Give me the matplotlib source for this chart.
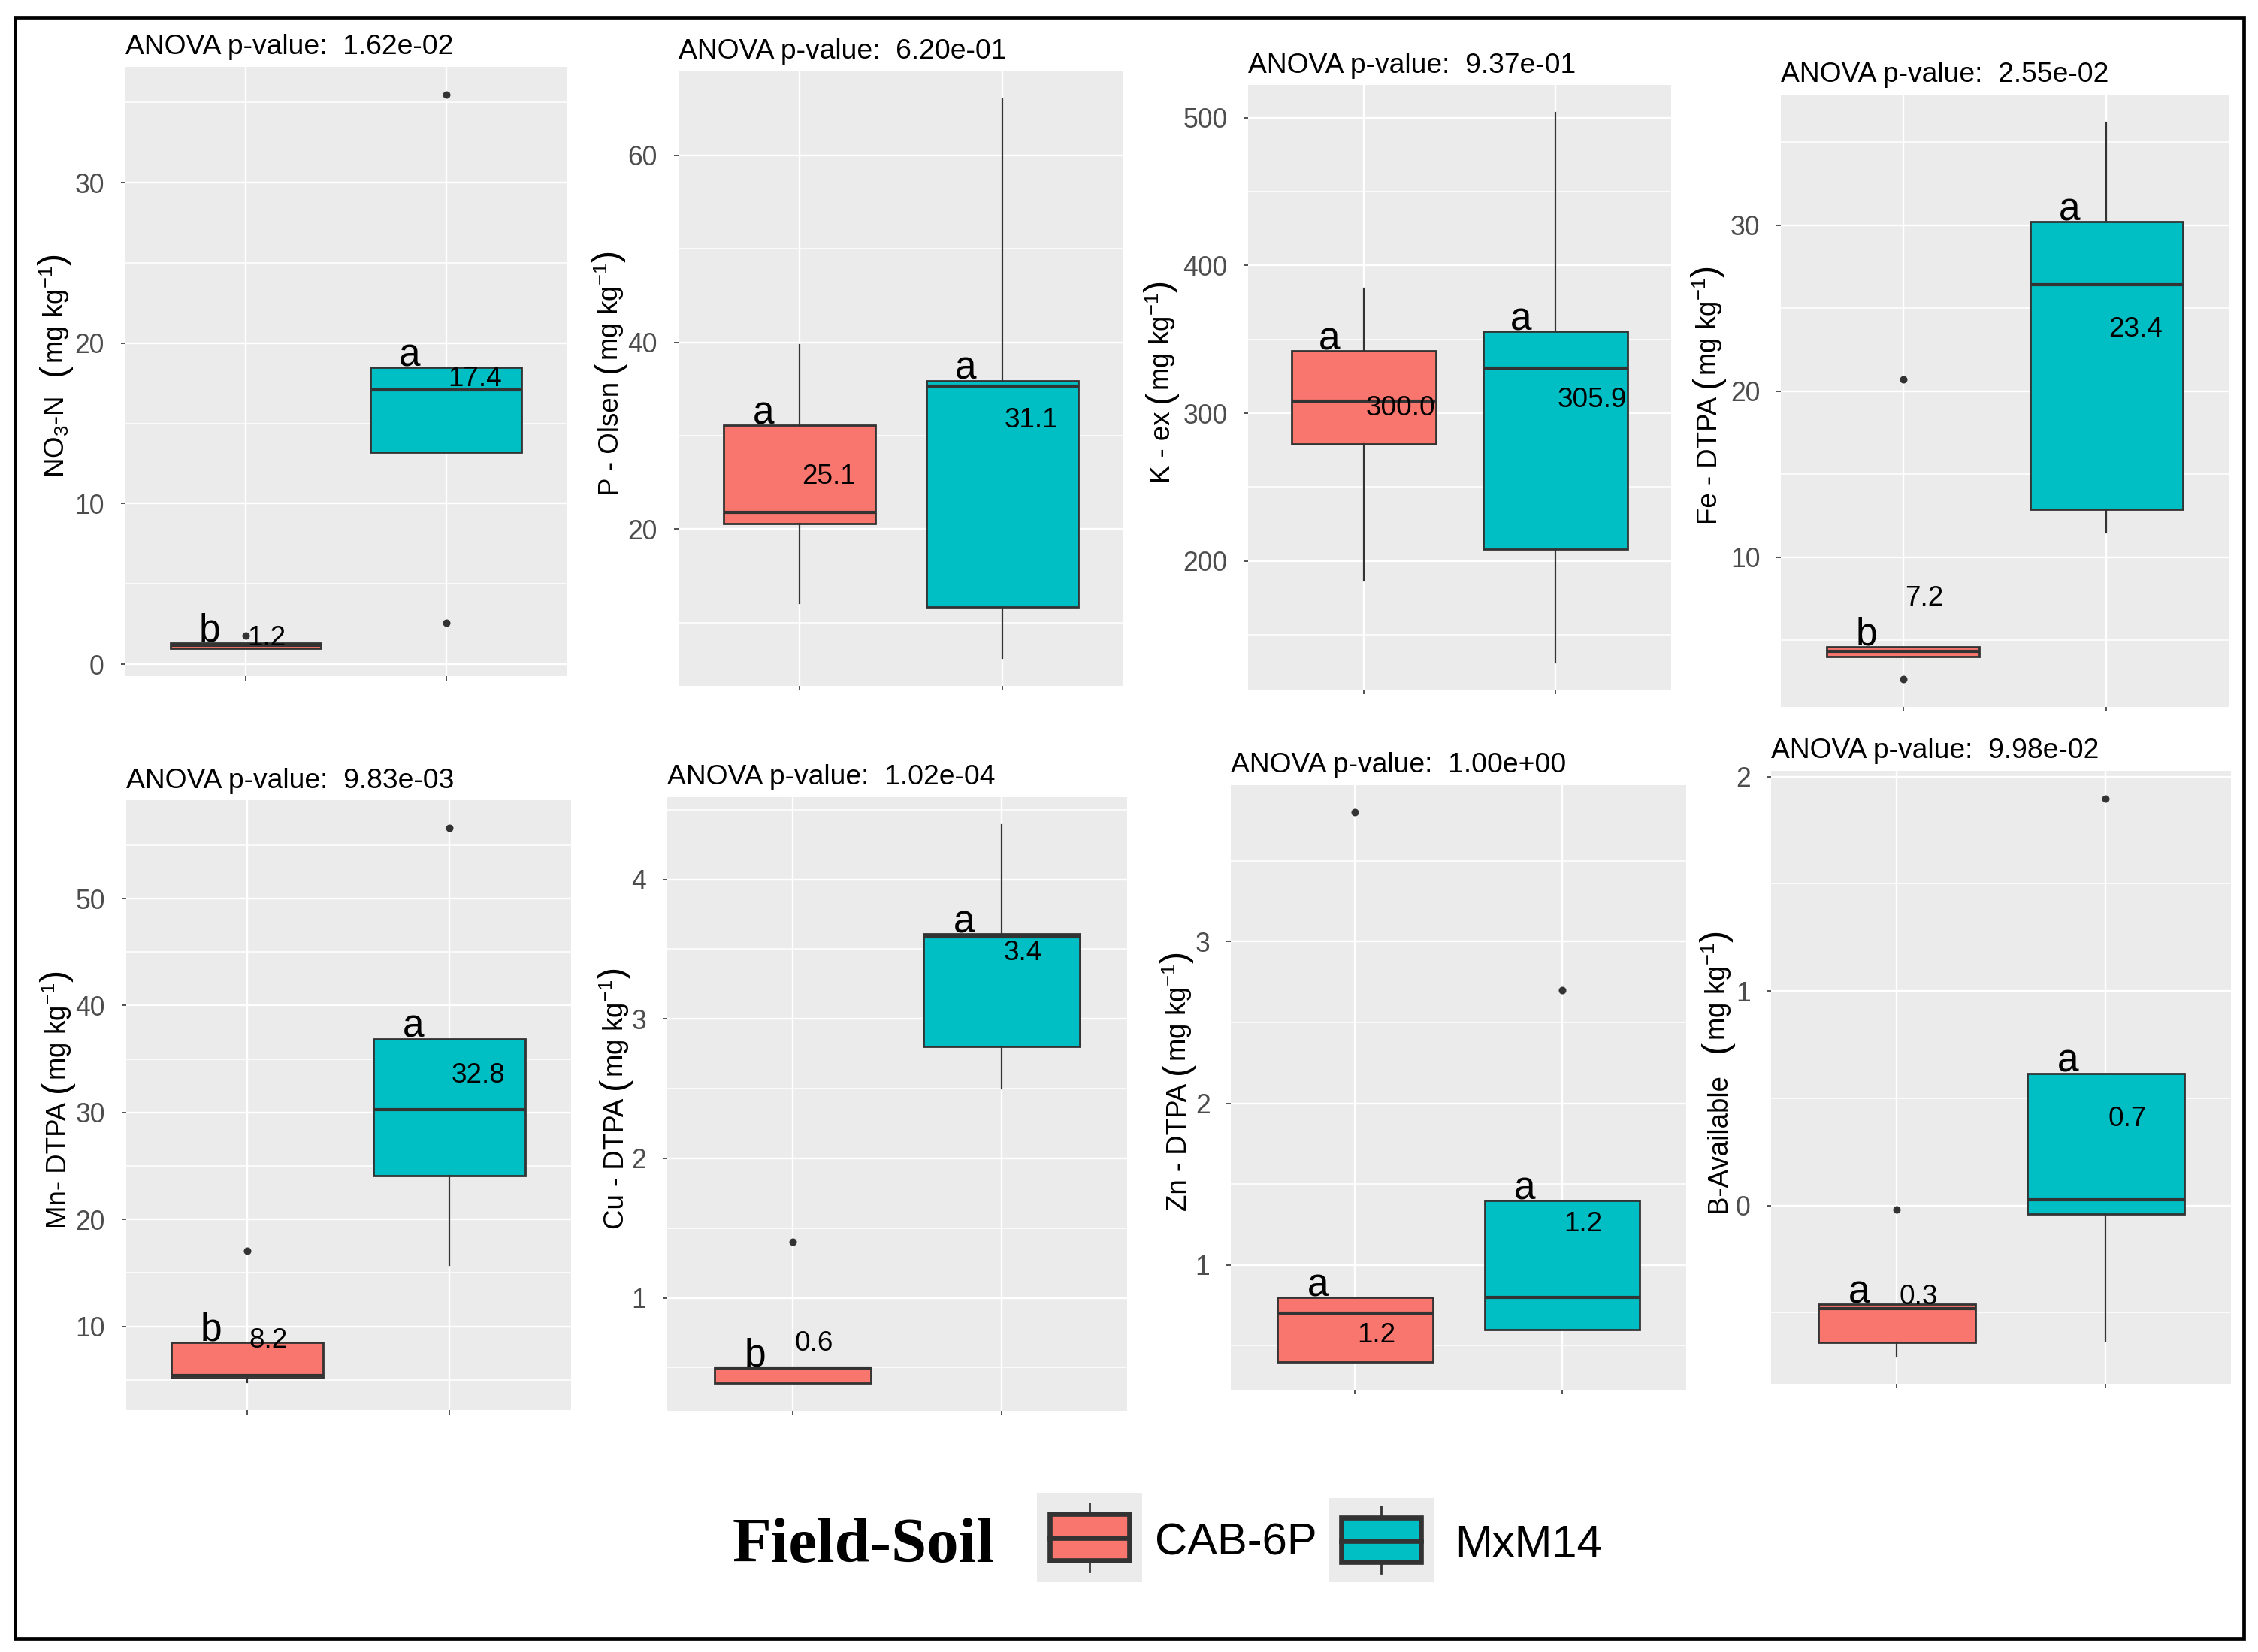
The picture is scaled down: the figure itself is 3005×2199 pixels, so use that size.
import matplotlib
matplotlib.use('Agg')
import matplotlib.pyplot as plt
from matplotlib.patches import Rectangle
from matplotlib.lines import Line2D

plt.rcParams['font.family'] = ['Liberation Sans', 'DejaVu Sans']
plt.rcParams['mathtext.fontset'] = 'custom'
plt.rcParams['mathtext.rm'] = 'Liberation Sans'
plt.rcParams['mathtext.it'] = 'Liberation Sans:italic'
plt.rcParams['mathtext.bf'] = 'Liberation Sans:bold'

# ---------------- data ----------------
groups = ['CAB-6P', 'MxM14']
group_colors = ['#F8766D', '#00BFC4']

titles = ['ANOVA p-value:  1.62e-02', 'ANOVA p-value:  6.20e-01',
          'ANOVA p-value:  9.37e-01', 'ANOVA p-value:  2.55e-02',
          'ANOVA p-value:  9.83e-03', 'ANOVA p-value:  1.02e-04',
          'ANOVA p-value:  1.00e+00', 'ANOVA p-value:  9.98e-02']

ylabel_names = [r'NO$_{\mathrm{3}}$-N', 'P - Olsen', 'K - ex', 'Fe - DTPA',
                'Mn- DTPA', 'Cu - DTPA', 'Zn - DTPA', 'B-Available']
unit_text = r'mg kg$^{\mathrm{-1}}$'

# box statistics per panel: [CAB-6P, MxM14]
whisker_low = [[0.98, 13.2], [12.1, 6.2], [186.6, 131.4], [4.02, 11.5],
               [4.8, 15.7], [0.39, 2.50], [0.40, 0.60], [-0.70, -0.632]]
q1 = [[0.98, 13.2], [20.6, 11.7], [279.0, 207.8], [4.02, 12.9],
      [5.2, 24.1], [0.39, 2.80], [0.40, 0.60], [-0.64, -0.039]]
median = [[1.15, 17.1], [21.8, 35.3], [308.4, 330.7], [4.35, 26.4],
          [5.4, 30.3], [0.495, 3.59], [0.70, 0.80], [-0.48, 0.026]]
q3 = [[1.33, 18.47], [31.1, 35.9], [342.0, 355.6], [4.63, 30.2],
      [8.53, 36.9], [0.50, 3.61], [0.80, 1.40], [-0.46, 0.617]]
whisker_high = [[1.33, 18.47], [39.75, 66.0], [384.5, 503.4], [4.63, 36.2],
                [8.53, 36.9], [0.50, 4.39], [0.80, 1.40], [-0.46, 0.617]]
outliers = [[[1.76], [35.5, 2.6]], [[], []], [[], []], [[20.7, 2.67], []],
            [[17.1], [56.6]], [[1.40], []], [[3.80], [2.70]], [[-0.017], [1.897]]]

means = [[1.2, 17.4], [25.1, 31.1], [300.0, 305.9], [7.2, 23.4],
         [8.2, 32.8], [0.6, 3.4], [1.2, 1.2], [0.3, 0.7]]
mean_label_y = [[1.15, 17.3], [24.9, 30.9], [298.5, 304.0], [7.1, 23.3],
                [8.0, 32.8], [0.62, 3.42], [0.52, 1.21], [-0.46, 0.37]]
letters = [['b', 'a'], ['a', 'a'], ['a', 'a'], ['b', 'a'],
           ['b', 'a'], ['b', 'a'], ['a', 'a'], ['a', 'a']]

major_ticks = [[0, 10, 20, 30], [20, 40, 60], [200, 300, 400, 500], [10, 20, 30],
               [10, 20, 30, 40, 50], [1, 2, 3, 4], [1, 2, 3], [0, 1, 2]]
minor_ticks = [[5, 15, 25, 35], [10, 30, 50], [150, 250, 350, 450], [5, 15, 25, 35],
               [5, 15, 25, 35, 45, 55], [0.5, 1.5, 2.5, 3.5, 4.5], [0.5, 1.5, 2.5, 3.5],
               [-0.5, 0.5, 1.5]]

# ---------------- layout ----------------
W, H = 3005, 2199
DPI = 200
fig = plt.figure(figsize=(W / DPI, H / DPI), dpi=DPI)

# panel rectangles in pixels: x0, x1, y0, y1 (y from top)
panel_px = [(166.6, 753.6, 88.8, 900.0), (902.9, 1495.3, 94.9, 913.4),
            (1661.4, 2223.7, 113.3, 918.4), (2370.3, 2965.5, 125.5, 941.0),
            (167.6, 759.5, 1065.3, 1876.5), (888.0, 1500.0, 1061.0, 1878.0),
            (1638.2, 2244.0, 1044.5, 1849.5), (2357.4, 2969.3, 1026.0, 1841.6)]
ylabel_center_px = [72, 810, 1544, 2272, 75, 817, 1566, 2284]
name_gap_px = [28, 12, 12, 12, 12, 12, 12, 28]

# overlay for border and legend (pixel coordinates)
ov = fig.add_axes([0, 0, 1, 1], zorder=-5)
ov.set_xlim(0, W)
ov.set_ylim(H, 0)
ov.axis('off')
ov.add_patch(Rectangle((20, 23), 2986 - 20, 2181 - 23, fill=False,
                       edgecolor='black', linewidth=1.7))

EDGE = '#333333'
positions = [1, 2]

for i in range(8):
    x0, x1, y0, y1 = panel_px[i]
    ax = fig.add_axes([x0 / W, 1 - y1 / H, (x1 - x0) / W, (y1 - y0) / H])
    ax.set_facecolor('#EBEBEB')
    for s in ax.spines.values():
        s.set_visible(False)

    stats = []
    for g in range(2):
        stats.append(dict(whislo=whisker_low[i][g], q1=q1[i][g], med=median[i][g],
                          q3=q3[i][g], whishi=whisker_high[i][g],
                          fliers=outliers[i][g], label=groups[g]))
    bp = ax.bxp(stats, positions=positions, widths=0.75, patch_artist=True,
                showcaps=False, showfliers=True,
                boxprops=dict(edgecolor=EDGE, linewidth=1.0),
                medianprops=dict(color=EDGE, linewidth=1.5),
                whiskerprops=dict(color=EDGE, linewidth=0.8),
                flierprops=dict(marker='o', markerfacecolor=EDGE,
                                markeredgecolor=EDGE, markersize=2.6,
                                linestyle='none'))
    for patch, c in zip(bp['boxes'], group_colors):
        patch.set_facecolor(c)

    allv = whisker_low[i] + whisker_high[i] + [v for g in outliers[i] for v in g]
    lo, hi = min(allv), max(allv)
    pad = 0.05 * (hi - lo)
    ax.set_ylim(lo - pad, hi + pad)
    ax.set_xlim(0.4, 2.6)

    ax.set_yticks(major_ticks[i])
    ax.set_yticks(minor_ticks[i], minor=True)
    ax.set_xticks(positions)
    ax.set_xticklabels(['', ''])
    ax.set_axisbelow(True)
    ax.grid(True, which='major', color='white', linewidth=0.85)
    ax.grid(True, which='minor', axis='y', color='white', linewidth=0.55)
    ax.tick_params(axis='both', which='major', length=2.0, width=0.6,
                   color=EDGE, labelsize=12.8, labelcolor='#4D4D4D', pad=8.0)
    ax.tick_params(axis='both', which='minor', length=0)

    for g in range(2):
        xp = positions[g]
        ax.annotate(letters[i][g], xy=(xp - 0.18, q3[i][g]), xytext=(0, 0.6),
                    textcoords='offset points', ha='center', va='baseline',
                    fontsize=18.5, color='black', zorder=5)
        ax.text(xp + 0.01, mean_label_y[i][g], f'{means[i][g]:.1f}',
                ha='left', va='baseline', fontsize=13.3, color='black', zorder=5)

    ax.annotate(titles[i], xy=(0, 1), xycoords='axes fraction', xytext=(0, 6),
                textcoords='offset points', ha='left', va='baseline', fontsize=13.4)

# ---------------- y-axis labels (name + large parentheses around unit) ----------------
renderer = fig.canvas.get_renderer()
LABEL_FS = 13.2
PAREN_FS = 17.5
for i in range(8):
    x0, x1, y0, y1 = panel_px[i]
    pieces = [(ylabel_names[i], LABEL_FS, name_gap_px[i]),
              ('(', PAREN_FS, 0),
              (unit_text, LABEL_FS, 1),
              (')', PAREN_FS, 0)]
    texts, lengths, total = [], [], 0.0
    for s, fs, gap in pieces:
        t = fig.text(0, 0, s, fontsize=fs, rotation=90, rotation_mode='anchor',
                     ha='left', va='baseline', color='black')
        L = t.get_window_extent(renderer).height
        texts.append(t)
        lengths.append(L)
        total += L + gap
    total -= pieces[-1][2]
    center_y_disp = H - ((y0 + y1) / 2 - 8)
    ypos = center_y_disp - total / 2
    base_x = ylabel_center_px[i] + 13
    for t, L, (s, fs, gap) in zip(texts, lengths, pieces):
        t.set_position((base_x / W, ypos / H))
        ypos += L + gap

# ---------------- legend ----------------
ov.text(975, 2079, 'Field-Soil', family=['Liberation Serif', 'DejaVu Serif'],
        fontweight='bold', fontsize=30.5, ha='left', va='baseline')
legend_keys = [
    # bg x0, x1, y0, y1, box x0, x1, y0, y1, median y, whisker top, whisker bottom
    (1380, 1520, 1987, 2106, 1397, 1503, 2015, 2077, 2047, 2001, 2092),
    (1768, 1909, 1994, 2106, 1785, 1891, 2020, 2079, 2051, 2005, 2094),
]
legend_text_pos = [(1537, 2070), (1936, 2072)]
for g, key in enumerate(legend_keys):
    bx0, bx1, by0, by1, kx0, kx1, ky0, ky1, my, wt, wb = key
    ov.add_patch(Rectangle((bx0, by0), bx1 - bx0, by1 - by0, facecolor='#EBEBEB',
                           edgecolor='none'))
    xc = (kx0 + kx1) / 2
    ov.add_line(Line2D([xc, xc], [wt, ky0], color=EDGE, linewidth=1.0))
    ov.add_line(Line2D([xc, xc], [ky1, wb], color=EDGE, linewidth=1.0))
    ov.add_patch(Rectangle((kx0, ky0), kx1 - kx0, ky1 - ky0, facecolor=group_colors[g],
                           edgecolor=EDGE, linewidth=2.4))
    ov.add_line(Line2D([kx0, kx1], [my, my], color=EDGE, linewidth=2.4))
    tx, ty = legend_text_pos[g]
    ov.text(tx, ty, groups[g], fontsize=21.5, ha='left', va='baseline')

fig.savefig('out.png', dpi=DPI, facecolor='white')
